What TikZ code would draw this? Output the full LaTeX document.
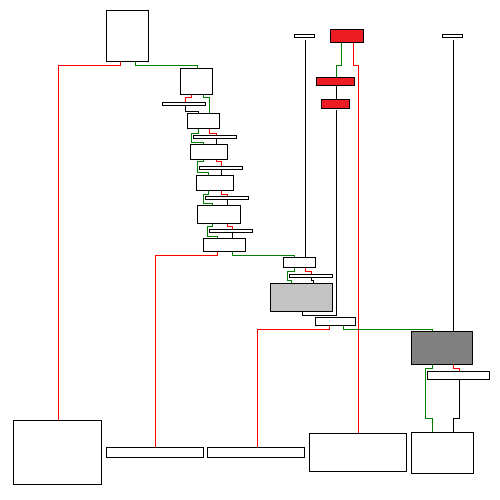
\documentclass[tikz,border=0pt]{standalone}
\usetikzlibrary{positioning}
\definecolor{fillred}{RGB}{237,28,36}
\definecolor{wirered}{RGB}{255,0,0}
\definecolor{wiregreen}{RGB}{0,128,0}
\definecolor{lightfill}{RGB}{195,195,195}
\definecolor{darkfill}{RGB}{128,128,128}
\tikzset{
    blk/.style={draw, line width=0.9pt, fill=white, inner sep=0pt, anchor=north west},
    rwire/.style={wirered, line width=0.9pt},
    gwire/.style={wiregreen, line width=0.9pt},
    kwire/.style={black, line width=0.9pt},
}
\begin{document}
\begin{tikzpicture}[x=1pt, y=-1pt]
    \useasboundingbox (0,0) rectangle (500,500);

    % Blocks: name/left/top/width/height
    \foreach \n/\x/\y/\w/\h in {src/106/10/42/51, b2/180/68/32/26, bar1/162/102/43/3,
        b3/187/113/32/15, bar2/193/135/43/3, b4/190/144/37/15, bar3/199/166/43/3,
        b5/196/175/37/15, bar4/205/196/43/3, b6/197/205/43/18, bar5/209/229/43/3,
        b7/203/238/42/13, tbarA/294/34/20/3, tbarB/442/34/20/3, b8/283/257/32/10,
        bar6/289/274/43/3, b9/315/317/40/8, bar7/427/371/62/8,
        outA/13/420/88/64, outB/106/447/97/10, outC/207/447/97/10,
        outD/309/433/97/38, outE/411/432/62/41} {
        \node[blk, minimum width=\w, minimum height=\h] (\n) at (\x,\y) {};
    }
    \node[blk, fill=fillred, minimum width=33, minimum height=13] (redA) at (330,29) {};
    \node[blk, fill=fillred, minimum width=38, minimum height=8] (redB) at (316,77) {};
    \node[blk, fill=fillred, minimum width=28, minimum height=9] (redC) at (321,99) {};
    \node[blk, fill=lightfill, minimum width=62, minimum height=28] (mid) at (270,283) {};
    \node[blk, fill=darkfill, minimum width=61, minimum height=33] (dark) at (411,331) {};

    % Source block
    \draw[rwire] (src.south -| 120.7,0) |- (58.3,65.3) -- (outA.north -| 58.3,0);
    \draw[gwire] (src.south -| 135.3,0) |- (197.3,65.3) -- (b2.north -| 197.3,0);

    % Chain of blocks
    \draw[rwire] (b2.south -| 191.3,0) |- (185.3,97.3) -- (bar1.north -| 185.3,0);
    \draw[gwire] (b2.south -| 203.3,0) |- (209.3,97.3) -- (b3.north -| 209.3,0);
    \draw[kwire] (bar1.south -| 185.3,0) |- (198.3,111.3) -- (b3.north -| 198.3,0);

    \draw[gwire] (b3.south -| 198.3,0) |- (191.3,133.3) |- (203.3,142.3) -- (b4.north -| 203.3,0);
    \draw[rwire] (b3.south -| 209.3,0) |- (216.3,133.5) -- (bar2.north -| 216.3,0);
    \draw[gwire] (b4.south -| 203.3,0) |- (197.3,161.7) |- (208.3,172.3) -- (b5.north -| 208.3,0);
    \draw[rwire] (b4.south -| 216.3,0) |- (221.3,161.7) -- (bar3.north -| 221.3,0);
    \draw[gwire] (b5.south -| 208.3,0) |- (203.3,194) |- (212.3,203.3) -- (b6.north -| 212.3,0);
    \draw[rwire] (b5.south -| 221.3,0) |- (227.3,194) -- (bar4.north -| 227.3,0);
    \draw[gwire] (b6.south -| 212.3,0) |- (207.3,226.7) |- (217.3,236.3) -- (b7.north -| 217.3,0);
    \draw[rwire] (b6.south -| 227.3,0) |- (232.3,226.7) -- (bar5.north -| 232.3,0);
    \foreach \a/\b/\x in {bar2/b4/216.3, bar3/b5/221.3, bar4/b6/227.3, bar5/b7/232.3} {
        \draw[kwire] (\a.south -| \x,0) -- (\b.north -| \x,0);
    }

    \draw[rwire] (b7.south -| 217.3,0) |- (155.3,255.3) -- (outB.north -| 155.3,0);
    \draw[gwire] (b7.south -| 232.3,0) |- (294.3,255.3) -- (b8.north -| 294.3,0);

    % Middle stage
    \draw[kwire, shorten <=2pt] (tbarA.south -| 305.3,0) -- (b8.north -| 305.3,0);
    \draw[gwire] (b8.south -| 294.3,0) |- (287.3,271) |- (291.3,280.3) -- (mid.north -| 291.3,0);
    \draw[rwire] (b8.south -| 305.3,0) |- (311.3,271) -- (bar6.north -| 311.3,0);
    \draw[kwire] (bar6.south -| 311.3,0) |- (313.3,280.3) -- (mid.north -| 313.3,0);

    \draw[rwire] (b9.south -| 329.3,0) |- (257.3,329.3) -- (outC.north -| 257.3,0);
    \draw[gwire] (b9.south -| 343.3,0) |- (432.3,329.3) -- (dark.north -| 432.3,0);

    % Red blocks
    \draw[gwire] (redA.south -| 341.3,0) |- (336.7,65.3) -- (redB.north -| 336.7,0);
    \draw[rwire] (redA.south -| 353.3,0) |- (358.3,65.3) -- (outD.north -| 358.3,0);
    \draw[kwire] (redB.south -| 336.7,0) -- (redC.north -| 336.7,0);
    \draw[kwire, shorten <=1.5pt] (redC.south -| 336.7,0) |- (302.3,315.3) -- (mid.south -| 302.3,0);

    % Right stage
    \draw[kwire, shorten <=2pt] (tbarB.south -| 453.3,0) -- (dark.north -| 453.3,0);
    \draw[gwire] (dark.south -| 432.3,0) |- (425.3,368.3) |- (432.3,418.3) -- (outE.north -| 432.3,0);
    \draw[rwire] (dark.south -| 453.3,0) |- (459.3,368.3) -- (bar7.north -| 459.3,0);
    \draw[kwire] (bar7.south -| 459.3,0) |- (453.3,418.3) -- (outE.north -| 453.3,0);
\end{tikzpicture}
\end{document}
